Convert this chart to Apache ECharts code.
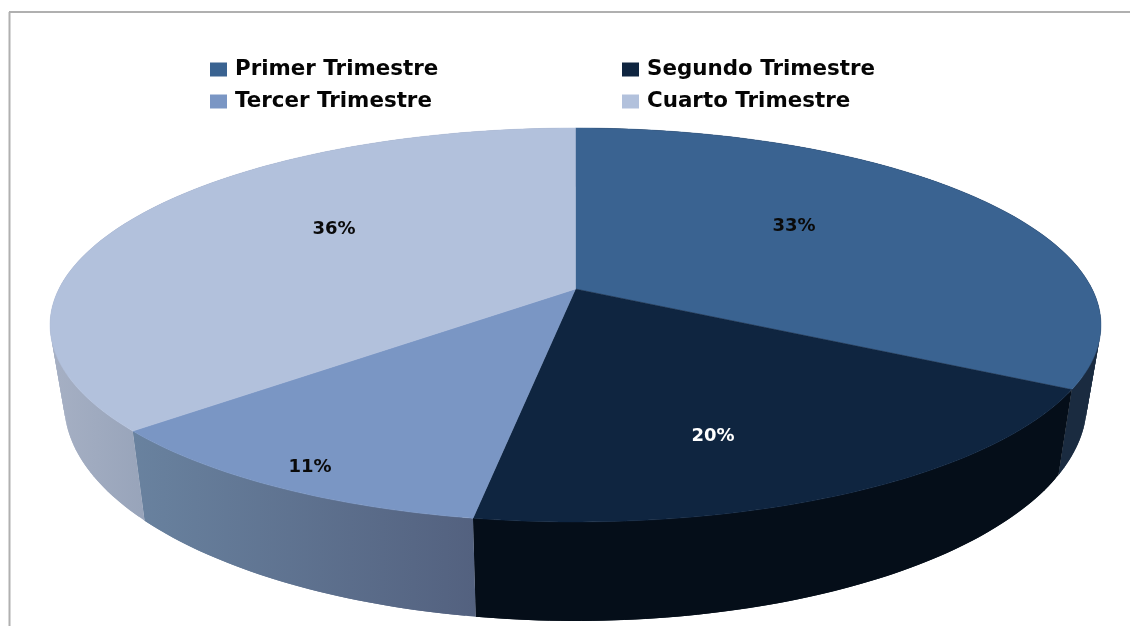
<!DOCTYPE html>
<html><head><meta charset="utf-8">
<style>html,body{margin:0;padding:0;background:#fff}#c{width:1130px;height:626px}</style>
<script src="https://cdn.jsdelivr.net/npm/echarts@6/dist/echarts.min.js"></script>
</head><body><div id="c"></div>
<script>
const categories = ['Primer Trimestre','Segundo Trimestre','Tercer Trimestre','Cuarto Trimestre'];
const values = [33.0, 19.6, 11.0, 36.4];
const topColors = ['#3a6391','#0f2540','#7a96c4','#b2c1dc'];
const wallColors = [['#1a2b40','#1a2b40'],['#050e19','#050e19'],['#69829f','#53617f'],['#a6b0c4','#98a4ba']];
const labelColors = ['#0a0a0a','#fff','#0a0a0a','#0a0a0a'];
const labelAt = [[794,226],[713,436],[310,467],[334,229]];

// perspective model of the pie plane
const P = {cx:575.5, k:0.1827, topY:289, topS:190.4, topR:516.6, baseY:364, baseS:210, baseR:502.7};
const total = values.reduce((a,b)=>a+b,0);
const cum = values.reduce((acc,v)=>{acc.push(acc[acc.length-1]+v);return acc;},[0]);
function proj(theta,y0,S,R){
  const u=Math.sin(theta), v=-Math.cos(theta), d=1-P.k*v;
  return [P.cx+R*u/d, y0+S*v/d];
}
function arc(a0,a1,y0,S,R){
  const n=Math.max(2,Math.ceil((a1-a0)/(Math.PI/180))), pts=[];
  for(let i=0;i<=n;i++) pts.push(proj(a0+(a1-a0)*i/n,y0,S,R));
  return pts;
}
const chart = echarts.init(document.getElementById('c'),null,{renderer:'canvas'});
const series = categories.map((name,i)=>({
  name, type:'custom', coordinateSystem:'none', animation:false, silent:true,
  itemStyle:{color:topColors[i]},
  data:[values[i]],
  renderItem(params,api){
    const a0=cum[i]/total*2*Math.PI, a1=cum[i+1]/total*2*Math.PI;
    const upper=arc(a0,a1,P.topY,P.topS,P.topR);
    const lower=arc(a0,a1,P.baseY,P.baseS,P.baseR);
    const xs=upper.map(p=>p[0]);
    const gx0=(i===2)?132:(i===3?50:Math.min.apply(null,xs));
    const gx1=(i===2)?477:(i===3?144:Math.max.apply(null,xs));
    const wallFill=new echarts.graphic.LinearGradient(gx0,0,gx1,0,[
      {offset:0,color:wallColors[i][0]},{offset:1,color:wallColors[i][1]}],true);
    const children=[];
    for(let s=0;s<upper.length-1;s++){
      const e=Math.min(s+2,upper.length-1);
      children.push({type:'polygon',z2:1,shape:{points:[upper[s],upper[e],lower[e],lower[s]]},style:{fill:wallFill}});
    }
    children.push({type:'polygon',z2:10,shape:{points:[[P.cx,P.topY]].concat(upper)},style:{fill:topColors[i],stroke:topColors[i],lineWidth:0.5}});
    children.push({type:'text',z2:20,style:{x:labelAt[i][0],y:labelAt[i][1],text:Math.round(values[i]/total*100)+'%',
        fill:labelColors[i],font:'bold 18px "DejaVu Sans"',textAlign:'center',textVerticalAlign:'middle'}});
    return {type:'group',children};
  }
}));
const legendBase={orient:'vertical',top:54,itemWidth:17,itemHeight:14,itemGap:11,icon:'rect',selectedMode:false,
  textStyle:{fontFamily:'DejaVu Sans',fontWeight:'bold',fontSize:21.4,color:'#050505',padding:[0,0,0,3]}};
chart.setOption({
  animation:false,
  backgroundColor:'#fff',
  legend:[
    Object.assign({},legendBase,{left:205,data:[categories[0],categories[2]]}),
    Object.assign({},legendBase,{left:617,data:[categories[1],categories[3]]})
  ],
  graphic:[
    {type:'line',shape:{x1:9.5,y1:12,x2:9.5,y2:626},style:{stroke:'#b0b0b0',lineWidth:2}},
    {type:'line',shape:{x1:9,y1:12,x2:1130,y2:12},style:{stroke:'#b0b0b0',lineWidth:2}}
  ],
  series
});
</script></body></html>
